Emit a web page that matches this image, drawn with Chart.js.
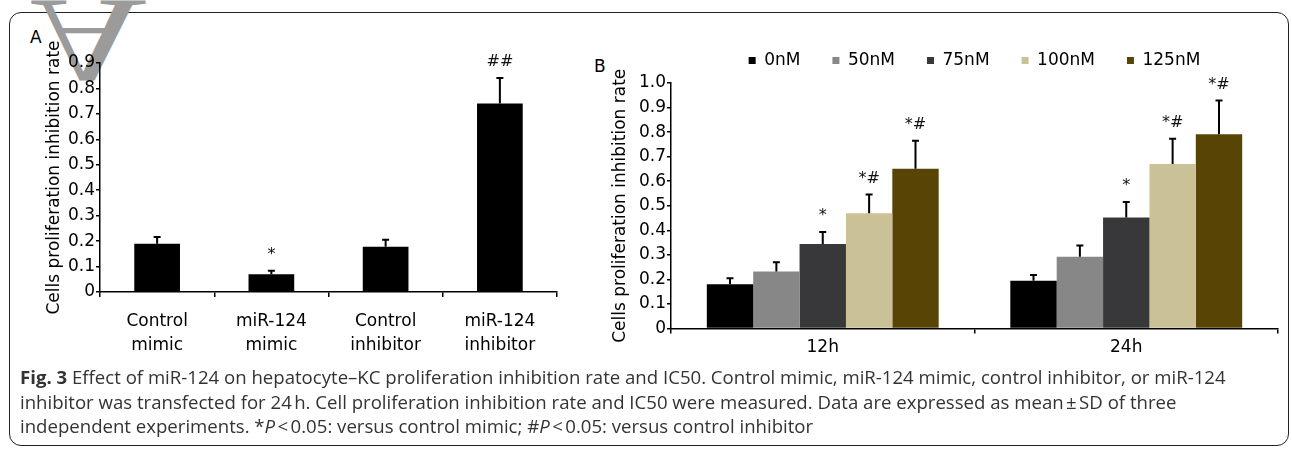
<!DOCTYPE html>
<html>
<head>
<meta charset="utf-8">
<script src="https://cdn.jsdelivr.net/npm/chart.js@4.4.1/dist/chart.umd.min.js"></script>
<style>
html,body{margin:0;padding:0;background:#fff;}
body{width:1292px;height:453px;position:relative;overflow:hidden;font-family:"DejaVu Sans",sans-serif;}
#frame{position:absolute;left:9px;top:12px;width:1280px;height:434px;border:1.5px solid #222;border-radius:12px;box-sizing:border-box;}
#wm{position:absolute;left:45px;top:-20px;height:120px;line-height:120px;font-family:"Liberation Serif",serif;font-size:120px;color:#9b9b9b;transform:scale(1.35,-1);}
.lbl{position:absolute;font-size:17px;color:#000;line-height:17px;}
#boxA{position:absolute;left:0;top:0;width:580px;height:370px;}
#boxB{position:absolute;left:580px;top:20px;width:705px;height:350px;}
#caption{position:absolute;left:20px;top:365px;font-family:"Open Sans",sans-serif;font-size:18.6px;line-height:24.5px;color:#333;white-space:nowrap;}
#caption b{color:#333;}
</style>
</head>
<body>
<div id="frame"></div>
<div id="wm">A</div>
<div class="lbl" style="left:30px;top:29px;">A</div>
<div class="lbl" style="left:594px;top:58px;">B</div>
<div id="boxA"><canvas id="chartA"></canvas></div>
<div id="boxB"><canvas id="chartB"></canvas></div>
<div id="caption"><b>Fig. 3</b> Effect of miR-124 on hepatocyte–KC proliferation inhibition rate and IC50. Control mimic, miR-124 mimic, control inhibitor, or miR-124<br>inhibitor was transfected for 24&#8239;h. Cell proliferation inhibition rate and IC50 were measured. Data are expressed as mean&#8239;±&#8239;SD of three<br>independent experiments. *<i>P</i>&#8239;&lt;&#8239;0.05: versus control mimic; #<i>P</i>&#8239;&lt;&#8239;0.05: versus control inhibitor</div>

<script>
// Panel A – transfection groups
const catsA = [["Control","mimic"],["miR-124","mimic"],["Control","inhibitor"],["miR-124","inhibitor"]];
const meanA = [0.19, 0.07, 0.178, 0.741];
const sdA   = [0.026, 0.014, 0.027, 0.10];
const markA = ["", "*", "", "##"];
const ticksA = [0,0.1,0.2,0.3,0.4,0.5,0.6,0.7,0.8,0.9];

// Panel B – dose / time
const catsB = ["12h","24h"];
const doses = ["0nM","50nM","75nM","100nM","125nM"];
const doseColors = ["#000000","#878787","#38383a","#cbc196","#584405"];
const mean0   = [0.18, 0.195],  sd0   = [0.025, 0.023],  mark0   = ["",""];
const mean50  = [0.232, 0.292], sd50  = [0.038, 0.046],  mark50  = ["",""];
const mean75  = [0.344, 0.452], sd75  = [0.049, 0.063],  mark75  = ["*","*"];
const mean100 = [0.469, 0.670], sd100 = [0.077, 0.103],  mark100 = ["*#","*#"];
const mean125 = [0.651, 0.791], sd125 = [0.114, 0.138],  mark125 = ["*#","*#"];
const ticksB = [0,0.1,0.2,0.3,0.4,0.5,0.6,0.7,0.8,0.9,1.0];

Chart.defaults.font.family = "'DejaVu Sans'";
Chart.defaults.font.size = 17;
Chart.defaults.color = "#000";

const yTitle = "Cells proliferation inhibition rate";
const fmtTick = v => v===0 ? "0" : Number(v).toFixed(1);

// error bars (upper only) + significance marks
const errorBars = {
  id:"errorBars",
  afterDatasetsDraw(chart){
    const {ctx, scales:{y}} = chart;
    ctx.save();
    chart.data.datasets.forEach((ds,i)=>{
      const meta = chart.getDatasetMeta(i);
      meta.data.forEach((bar,j)=>{
        const top = y.getPixelForValue(ds.data[j] + ds.sd[j]);
        ctx.strokeStyle = "#000"; ctx.lineWidth = 2;
        ctx.beginPath();
        ctx.moveTo(bar.x, bar.y); ctx.lineTo(bar.x, top);
        ctx.moveTo(bar.x-3.5, top); ctx.lineTo(bar.x+3.5, top);
        ctx.stroke();
        const m = ds.marks[j];
        if (m){
          ctx.fillStyle = "#111";
          ctx.font = "16px 'DejaVu Sans'";
          ctx.textAlign = "center"; ctx.textBaseline = "middle";
          ctx.fillText(m, bar.x, top-16);
        }
      });
    });
    ctx.restore();
  }
};

const axisBase = {
  border:{color:"#000", width:1.5},
  grid:{drawOnChartArea:false, drawTicks:true, color:"#000", lineWidth:1.5}
};

new Chart(document.getElementById("chartA"),{
  type:"bar",
  data:{
    labels:catsA,
    datasets:[{data:meanA, sd:sdA, marks:markA, backgroundColor:"#000", borderWidth:0,
               barPercentage:0.4, categoryPercentage:1}]
  },
  options:{
    responsive:true, maintainAspectRatio:false, animation:false,
    layout:{padding:{left:40, top:63, right:23, bottom:0}},
    plugins:{legend:{display:false}, tooltip:{enabled:false}},
    scales:{
      x:{...axisBase, grid:{...axisBase.grid, tickLength:5},
         ticks:{padding:13, font:{size:17, lineHeight:1.4}},
         afterFit:s=>{ s.height = 78; }},
      y:{...axisBase, min:0, max:0.9, grid:{...axisBase.grid, tickLength:4},
         afterBuildTicks:s=>{ s.ticks = ticksA.map(v=>({value:v})); },
         ticks:{padding:1, callback:fmtTick},
         title:{display:true, text:yTitle, padding:{top:4,bottom:0}},
         afterFit:s=>{ s.width = 60; }}
    }
  },
  plugins:[errorBars]
});

const meansB = [mean0, mean50, mean75, mean100, mean125];
const sdsB = [sd0, sd50, sd75, sd100, sd125];
const marksB = [mark0, mark50, mark75, mark100, mark125];

new Chart(document.getElementById("chartB"),{
  type:"bar",
  data:{
    labels:catsB,
    datasets:doses.map((d,i)=>({label:d, data:meansB[i], sd:sdsB[i], marks:marksB[i],
      backgroundColor:doseColors[i], borderWidth:0, barPercentage:1, categoryPercentage:0.764}))
  },
  options:{
    responsive:true, maintainAspectRatio:false, animation:false,
    layout:{padding:{left:26, top:0, right:7, bottom:0}},
    plugins:{
      tooltip:{enabled:false},
      legend:{display:true, position:"top", align:"center", fullSize:false,
        labels:{boxWidth:7, boxHeight:7, padding:32, color:"#000", font:{size:17}}}
    },
    scales:{
      x:{...axisBase, grid:{...axisBase.grid, tickLength:5},
         ticks:{padding:2, font:{size:17, lineHeight:1.4}},
         afterFit:s=>{ s.height = 41.5; }},
      y:{...axisBase, min:0, max:1.0, grid:{...axisBase.grid, tickLength:4},
         afterBuildTicks:s=>{ s.ticks = ticksB.map(v=>({value:v})); },
         ticks:{padding:1, callback:fmtTick},
         title:{display:true, text:yTitle, padding:{top:4,bottom:0}},
         afterFit:s=>{ s.width = 65; }}
    }
  },
  plugins:[errorBars, {
    id:"legendHeight",
    beforeInit(chart){
      const fit = chart.legend.fit;
      chart.legend.fit = function(){ fit.call(chart.legend); this.height = 63; };
    }
  }]
});
</script>
</body>
</html>
